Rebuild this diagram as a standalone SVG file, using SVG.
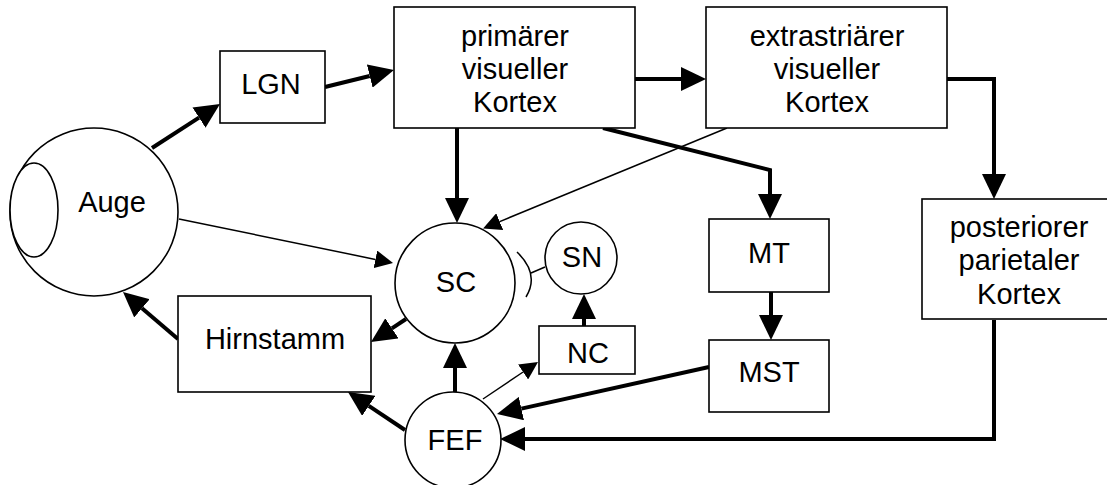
<svg xmlns="http://www.w3.org/2000/svg" width="1107" height="485" viewBox="0 0 1107 485">
<style>
.box{fill:#fff;stroke:#000;stroke-width:1.6}
.t{font-family:"Liberation Sans",Arial,sans-serif;font-size:29px;fill:#000;text-anchor:middle}
.thick{fill:none;stroke:#000;stroke-width:4}
.thin{fill:none;stroke:#000;stroke-width:1.5}
</style>
<defs>
<marker id="ab" viewBox="0 -12 25 24" markerWidth="25" markerHeight="24" refX="0" refY="0" markerUnits="userSpaceOnUse" orient="auto"><path d="M0,-12 L25,0 L0,12 z" fill="#000"/></marker>
<marker id="as" viewBox="0 -9 18 18" markerWidth="18" markerHeight="18" refX="0" refY="0" markerUnits="userSpaceOnUse" orient="auto"><path d="M0,-9 L18,0 L0,9 z" fill="#000"/></marker>
</defs>
<rect width="1107" height="485" fill="#fff"/>
<g id="connectors">
<line class="thick" x1="152" y1="148" x2="199" y2="117.6" marker-end="url(#ab)"/>
<line class="thick" x1="325" y1="87" x2="369.7" y2="76" marker-end="url(#ab)"/>
<line class="thick" x1="635" y1="79" x2="681" y2="79" marker-end="url(#ab)"/>
<polyline class="thick" points="947,79 994,79 994,174" marker-end="url(#ab)"/>
<line class="thick" x1="457" y1="128" x2="457" y2="198" marker-end="url(#ab)"/>
<polyline class="thick" points="603,128 770,170 770,194" marker-end="url(#ab)"/>
<line class="thin" x1="727" y1="128" x2="499.7" y2="221.6" marker-end="url(#as)"/>
<line class="thin" x1="179" y1="219" x2="375.4" y2="259.4" marker-end="url(#as)"/>
<line class="thick" x1="406" y1="319" x2="391.9" y2="328.3" marker-end="url(#ab)"/>
<line class="thick" x1="178" y1="339" x2="142" y2="308.3" marker-end="url(#ab)"/>
<line class="thick" x1="405" y1="430" x2="368.8" y2="405.9" marker-end="url(#ab)"/>
<line class="thick" x1="455" y1="392" x2="455" y2="368" marker-end="url(#ab)"/>
<line class="thin" x1="483" y1="399" x2="523.1" y2="372" marker-end="url(#as)"/>
<line class="thick" x1="584" y1="326" x2="584" y2="319" marker-end="url(#ab)"/>
<line class="thick" x1="771" y1="292" x2="771" y2="315" marker-end="url(#ab)"/>
<line class="thick" x1="709" y1="367" x2="521.4" y2="408.6" marker-end="url(#ab)"/>
<polyline class="thick" points="994,320 994,439 525,439" marker-end="url(#ab)"/>
<line class="thin" x1="545" y1="267" x2="531" y2="273"/>
<path class="thin" d="M517,252 Q540,274 526,297"/>
</g>
<g id="auge">
<circle class="box" cx="94" cy="212" r="84"/>
<ellipse class="box" cx="34" cy="210" rx="24" ry="47"/>
<text class="t" x="112" y="212">Auge</text>
</g>
<g id="lgn">
<rect class="box" x="220" y="51" width="105" height="72"/>
<text class="t" x="271" y="94">LGN</text>
</g>
<g id="v1">
<rect class="box" x="394" y="7" width="241" height="121"/>
<text class="t" x="515" y="46">primärer</text>
<text class="t" x="515" y="79">visueller</text>
<text class="t" x="515" y="112">Kortex</text>
</g>
<g id="extra">
<rect class="box" x="706" y="7" width="241" height="121"/>
<text class="t" x="827" y="46">extrastriärer</text>
<text class="t" x="827" y="79">visueller</text>
<text class="t" x="827" y="112">Kortex</text>
</g>
<g id="ppc">
<rect class="box" x="922" y="199" width="192" height="120"/>
<text class="t" x="1019" y="237">posteriorer</text>
<text class="t" x="1019" y="270">parietaler</text>
<text class="t" x="1019" y="304">Kortex</text>
</g>
<g id="mt">
<rect class="box" x="709" y="219" width="120" height="73"/>
<text class="t" x="769" y="263">MT</text>
</g>
<g id="mst">
<rect class="box" x="709" y="340" width="120" height="72"/>
<text class="t" x="769" y="382">MST</text>
</g>
<g id="sc">
<circle class="box" cx="455" cy="283" r="60"/>
<text class="t" x="456" y="292">SC</text>
</g>
<g id="sn">
<circle class="box" cx="581" cy="258" r="36"/>
<text class="t" x="582" y="267">SN</text>
</g>
<g id="nc">
<rect class="box" x="539" y="326" width="96" height="48"/>
<text class="t" x="588" y="363">NC</text>
</g>
<g id="hirnstamm">
<rect class="box" x="178" y="296" width="193" height="96"/>
<text class="t" x="275" y="349">Hirnstamm</text>
</g>
<g id="fef">
<circle class="box" cx="453" cy="440" r="48"/>
<text class="t" x="455" y="450">FEF</text>
</g>
</svg>
